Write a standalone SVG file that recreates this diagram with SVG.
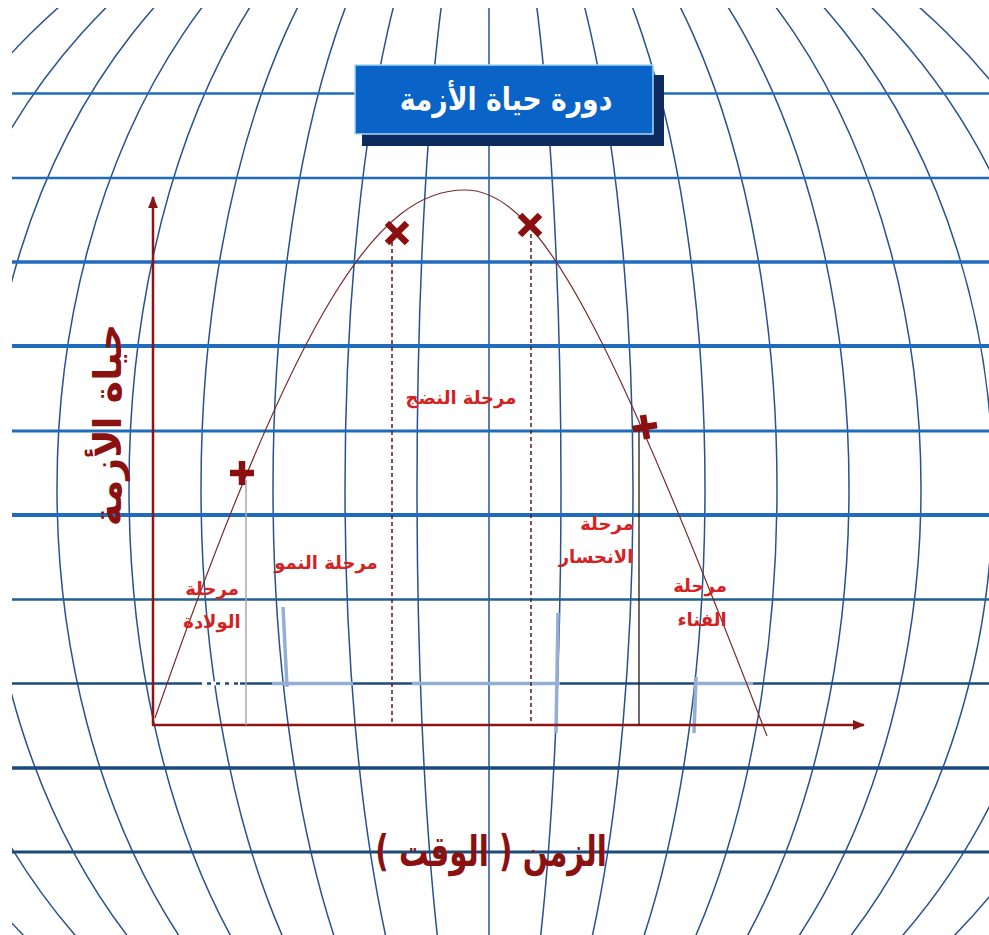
<svg xmlns="http://www.w3.org/2000/svg" width="989" height="935" viewBox="0 0 989 935">
<defs>
<style>
.mer{fill:none;stroke:#27528f;stroke-width:1.5}
.hl{stroke:#1f6cbf;stroke-width:3}
.hd{stroke:#1c4a7c;stroke-width:3}
.fade{stroke:#93b0d4;stroke-width:3.5;fill:none}
.axis{stroke:#8b1414;stroke-width:2.5;fill:none}
.curve{stroke:#7a2a2a;stroke-width:1.2;fill:none}
.mk{stroke:#8b0f0f;stroke-width:6.5;stroke-linecap:butt;fill:none}
.lbl{font-family:"DejaVu Sans",sans-serif;font-weight:bold;font-size:18px;fill:#d42222;text-anchor:middle}
.big{font-family:"DejaVu Sans",sans-serif;font-weight:bold;fill:#8b1010;text-anchor:middle}
</style>
<clipPath id="gclip"><rect x="12" y="8" width="977" height="927"/></clipPath>
<marker id="arr" viewBox="0 0 10 10" refX="9" refY="5" markerWidth="5" markerHeight="5" orient="auto" markerUnits="strokeWidth"><path d="M0,1 L10,5 L0,9 z" fill="#8b1414"/></marker>
</defs>
<rect width="989" height="935" fill="#ffffff"/>
<g id="grid" clip-path="url(#gclip)">
<g id="meridians">
<line class="mer" x1="489" y1="8" x2="489" y2="935"/>
<ellipse class="mer" cx="489" cy="488" rx="72" ry="643"/>
<ellipse class="mer" cx="489" cy="488" rx="144" ry="643"/>
<ellipse class="mer" cx="489" cy="488" rx="216" ry="643"/>
<ellipse class="mer" cx="489" cy="488" rx="288" ry="643"/>
<ellipse class="mer" cx="489" cy="488" rx="360" ry="643"/>
<ellipse class="mer" cx="489" cy="488" rx="432" ry="643"/>
<ellipse class="mer" cx="489" cy="488" rx="504" ry="643"/>
<ellipse class="mer" cx="489" cy="488" rx="576" ry="643"/>
<ellipse class="mer" cx="489" cy="488" rx="648" ry="643"/>
</g>
<g id="parallels">
<line class="hl" x1="12" y1="93.5" x2="989" y2="93.5" style="stroke-width:2.5"/>
<line class="hl" x1="12" y1="178" x2="989" y2="178" style="stroke-width:2.5"/>
<line class="hl" x1="12" y1="262" x2="989" y2="262" style="stroke-width:3.5"/>
<line class="hl" x1="12" y1="346" x2="989" y2="346" style="stroke-width:4"/>
<line class="hl" x1="12" y1="431" x2="989" y2="431"/>
<line class="hl" x1="12" y1="515" x2="989" y2="515" style="stroke-width:4"/>
<line class="hd" x1="12" y1="599.5" x2="989" y2="599.5" style="stroke:#22608f;stroke-width:2.5"/>
<line class="hd" x1="12" y1="683.5" x2="989" y2="683.5" style="stroke-width:2.5"/>
<line class="hd" x1="12" y1="768" x2="989" y2="768" style="stroke-width:3.5"/>
<line class="hd" x1="12" y1="852" x2="989" y2="852"/>
</g>
</g>
<g id="faded">
<line x1="202" y1="683.5" x2="240" y2="683.5" stroke="#ffffff" stroke-width="4" stroke-dasharray="5 4"/>
<line class="fade" x1="272" y1="683.5" x2="353" y2="683.5"/>
<line class="fade" x1="412" y1="683.5" x2="560" y2="683.5"/>
<line class="fade" x1="697" y1="683.5" x2="753" y2="683.5"/>
<path class="fade" d="M283,607 L287,687"/>
<path class="fade" d="M558,613 L556,733"/>
<path class="fade" d="M696,677 L694,733"/>
</g>
<g id="title">
<rect x="362" y="75" width="302" height="71" fill="#0d2b5e"/>
<rect x="355" y="65" width="298" height="69" fill="#0a63c6" stroke="#a8d8f5" stroke-width="1.5"/>
<text transform="translate(506,110) scale(0.86,1)" font-family="DejaVu Sans, sans-serif" font-weight="bold" font-size="31" fill="#ffffff" text-anchor="middle">دورة حياة الأزمة</text>
</g>
<g id="connectors">
<line class="axis" x1="153" y1="725" x2="153" y2="197" marker-end="url(#arr)"/>
<line class="axis" x1="152" y1="725" x2="864" y2="725" marker-end="url(#arr)"/>
<path id="crisis-curve" class="curve" d="M155,718 C300,300 380,190 465,190 C540,190 610,330 767,736"/>
<line x1="246" y1="480" x2="246" y2="725" stroke="#a9a9a9" stroke-width="1.5"/>
<line x1="392" y1="242" x2="392" y2="725" stroke="#5a1a1a" stroke-width="1.5" stroke-dasharray="4 3"/>
<line x1="531" y1="234" x2="531" y2="725" stroke="#5a1a1a" stroke-width="1.5" stroke-dasharray="4 3"/>
<line x1="639" y1="425" x2="639" y2="725" stroke="#2a1a1a" stroke-width="1.3"/>
</g>
<g id="markers">
<g id="m-birth"><path class="mk" d="M230,473 H254 M242,461 V485"/></g>
<g id="m-mat1"><path class="mk" d="M387,223 L407,243 M407,223 L387,243"/></g>
<g id="m-mat2"><path class="mk" d="M520,215 L540,235 M540,215 L520,235"/></g>
<g id="m-decline"><path class="mk" d="M633,429 L657,425 M643,415 L647,439"/></g>
</g>
<g id="labels">
<g id="lbl-maturity"><text class="lbl" x="461" y="404">مرحلة النضج</text></g>
<g id="lbl-growth"><text class="lbl" x="326" y="569">مرحلة النمو</text></g>
<g id="lbl-birth"><text class="lbl" x="212" y="595">مرحلة</text><text class="lbl" x="212" y="628">الولادة</text></g>
<g id="lbl-decline"><text class="lbl" x="607" y="530">مرحلة</text><text class="lbl" x="596" y="563">الانحسار</text></g>
<g id="lbl-demise"><text class="lbl" x="700" y="592">مرحلة</text><text class="lbl" x="702" y="626">الفناء</text></g>
<g id="y-label"><text class="big" font-size="38" transform="translate(121,425) rotate(-90)">حياة الأزمة</text></g>
<g id="x-label"><text class="big" font-size="42" transform="translate(491,866) scale(0.7,1)">الزمن ( الوقت )</text></g>
</g>
</svg>
